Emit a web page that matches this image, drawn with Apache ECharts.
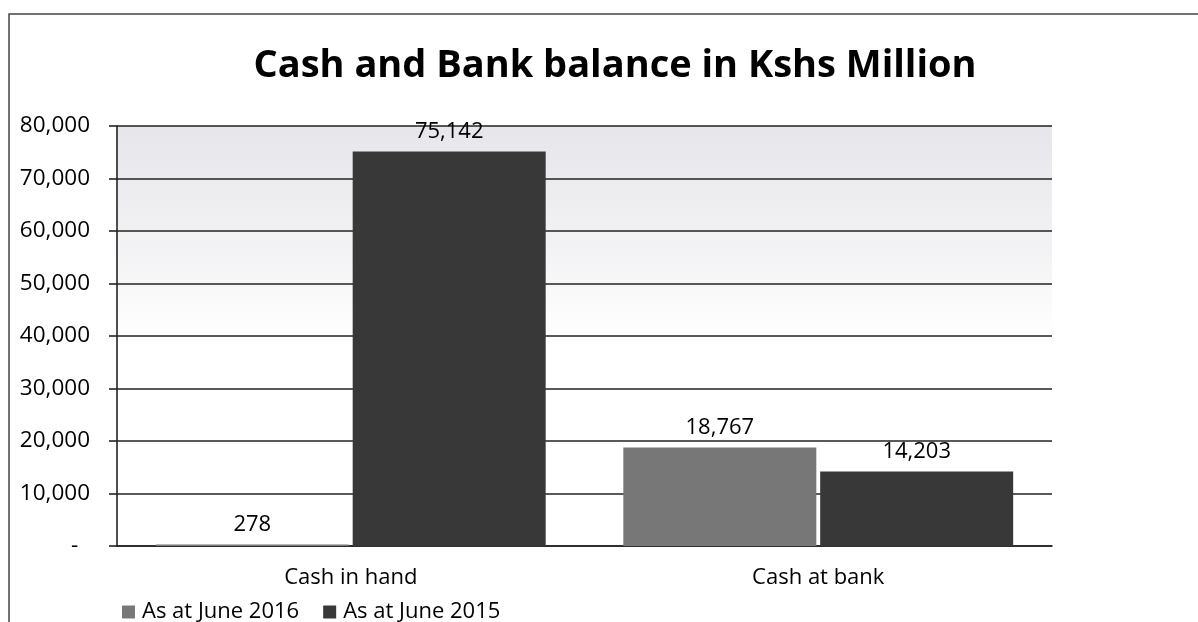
<!DOCTYPE html>
<html>
<head>
<meta charset="utf-8">
<script src="https://cdn.jsdelivr.net/npm/echarts@6/dist/echarts.min.js"></script>
<style>
html,body{margin:0;padding:0;background:#fff;}
#c{width:1198px;height:622px;}
</style>
</head>
<body>
<div id="c"></div>
<script>
const categories = ['Cash in hand', 'Cash at bank'];
const seriesNames = ['As at June 2016', 'As at June 2015'];
const june2016 = [278, 18767];
const june2015 = [75142, 14203];
const yTicks = [0, 10000, 20000, 30000, 40000, 50000, 60000, 70000, 80000];

const FONT = '"Open Sans", "Noto Sans", sans-serif';
const chart = echarts.init(document.getElementById('c'));
const fmt = v => v === 0 ? '-  ' : v.toLocaleString('en-US');

chart.setOption({
  backgroundColor: '#fff',
  animation: false,
  title: {
    text: 'Cash and Bank balance in Kshs Million',
    left: 610, textAlign: 'center', top: 42,
    textStyle: { fontFamily: FONT, fontWeight: 'bold', fontSize: 38, color: '#000' }
  },
  legend: {
    left: 117, top: 596,
    itemWidth: 13, itemHeight: 13, itemGap: 24,
    icon: 'rect',
    textStyle: { fontFamily: FONT, fontSize: 22, color: '#000', padding: [0,0,0,2] },
    data: seriesNames
  },
  grid: {
    left: 117, right: 146, top: 126, bottom: 76,
    show: true, borderWidth: 0,
    backgroundColor: {
      type: 'linear', x: 0, y: 0, x2: 0, y2: 1,
      colorStops: [
        { offset: 0, color: '#e6e6eb' },
        { offset: 0.3, color: '#f3f3f5' },
        { offset: 0.5, color: '#ffffff' },
        { offset: 1, color: '#ffffff' }
      ]
    }
  },
  xAxis: {
    type: 'category',
    data: categories,
    axisLine: { show: true, lineStyle: { color: '#222', width: 1.6 } },
    axisTick: { show: false },
    axisLabel: { fontFamily: FONT, fontSize: 22, color: '#000', margin: 21 }
  },
  yAxis: {
    type: 'value',
    min: yTicks[0], max: yTicks[yTicks.length - 1], interval: yTicks[1] - yTicks[0],
    axisLine: { show: true, lineStyle: { color: '#222', width: 1.6 } },
    axisTick: { show: true, length: 8, lineStyle: { color: '#222', width: 1.6 } },
    splitLine: { show: true, lineStyle: { color: '#222', width: 1.6 } },
    axisLabel: { fontFamily: FONT, fontSize: 22.5, color: '#000', margin: 27, formatter: fmt }
  },
  series: [
    {
      name: seriesNames[0], type: 'bar', data: june2016,
      barWidth: 193, barGap: '2%',
      itemStyle: { color: '#777777' },
      label: { show: true, position: 'top', distance: 9, fontFamily: FONT, fontSize: 22, color: '#000', formatter: p => fmt(p.value) }
    },
    {
      name: seriesNames[1], type: 'bar', data: june2015,
      barWidth: 193, barGap: '2%',
      itemStyle: { color: '#383838' },
      label: { show: true, position: 'top', distance: 9, fontFamily: FONT, fontSize: 22, color: '#000', formatter: p => fmt(p.value) }
    }
  ],
  graphic: [
    {
      type: 'polyline', silent: true,
      shape: { points: [[9, 622], [9, 14], [1198, 14]] },
      style: { stroke: '#444', lineWidth: 1.5, fill: null }
    }
  ]
});
</script>
</body>
</html>
